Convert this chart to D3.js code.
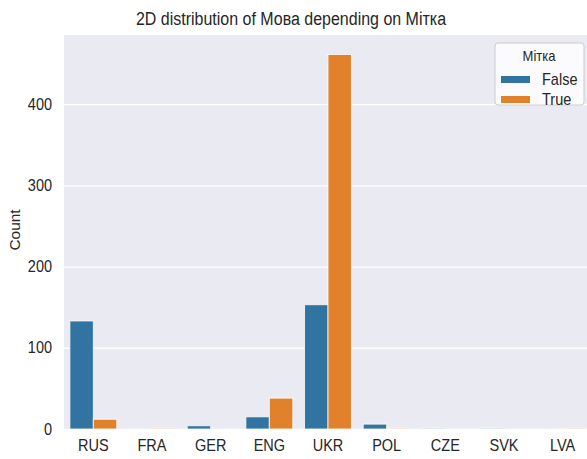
<!DOCTYPE html>
<html><head><meta charset="utf-8">
<script src="https://cdn.jsdelivr.net/npm/d3@7"></script>
<style>
body{margin:0;background:#fff;}
text{font-family:"Liberation Sans",Arial,sans-serif;fill:#262626;}
</style></head>
<body><svg id="c" width="587" height="459"></svg>
<script>
const categories = ["RUS","FRA","GER","ENG","UKR","POL","CZE","SVK","LVA"];
const series = ["False","True"];
const valuesFalse = [133, 0, 4, 15, 153, 6, 1, 1, 0];
const valuesTrue  = [12, 1, 0, 38, 461, 1, 0, 0, 1];
const yTicks = [0,100,200,300,400];
const colors = ["#3274a1","#e1812c"];
const title = "2D distribution of Мова depending on Мітка";
const yLabel = "Count";
const legendTitle = "Мітка";

const svg = d3.select("#c");
const L = 64, R = 592, T = 35, B = 429;
const x0 = d3.scaleBand().domain(categories).range([L,R]);
const xs = d3.scaleBand().domain(series).range([0, x0.bandwidth()*0.8]);
const y = d3.scaleLinear().domain([0,485]).range([B,T]);

svg.append("rect").attr("x",L).attr("y",T).attr("width",R-L).attr("height",B-T).attr("fill","#eaeaf2");

const yAxis = d3.axisLeft(y).tickValues(yTicks).tickSize(-(R-L)).tickPadding(12);
const gy = svg.append("g").attr("transform",`translate(${L},0)`).call(yAxis);
gy.select(".domain").remove();
gy.selectAll(".tick line").attr("stroke","#fff").attr("stroke-width",1.3);
gy.selectAll(".tick text").attr("font-size",14.5).attr("transform","scale(1,1.1)").style("fill","#262626");

const data = [valuesFalse, valuesTrue];
series.forEach((s,i)=>{
  svg.append("g").selectAll("rect").data(categories).join("rect")
    .attr("x",c=>x0(c)+x0.bandwidth()*0.1+xs(s))
    .attr("width",xs.bandwidth())
    .attr("y",(c,j)=>y(data[i][j]))
    .attr("height",(c,j)=>B-y(data[i][j]))
    .attr("fill",colors[i])
    .attr("stroke","#fff").attr("stroke-width",(c,j)=>data[i][j]>0?1:0).attr("stroke-opacity",0.8);
});

const xAxis = d3.axisBottom(x0).tickSize(0).tickPadding(10);
const gx = svg.append("g").attr("transform",`translate(0,${B})`).call(xAxis);
gx.select(".domain").remove();
gx.selectAll(".tick text").attr("font-size",14.5).attr("transform","scale(1,1.1)").style("fill","#262626");

svg.append("text").attr("transform","translate(291,25) scale(1,1.1)").attr("text-anchor","middle").attr("font-size",16).text(title);
svg.append("text").attr("transform","translate(20,230) rotate(-90) scale(1.1,1)").attr("text-anchor","middle").attr("font-size",14).text(yLabel);

// legend
const lg = svg.append("g");
lg.append("rect").attr("x",495).attr("y",43).attr("width",89).attr("height",62).attr("rx",3)
  .attr("fill","#fff").attr("fill-opacity",0.8).attr("stroke","#cccccc");
lg.append("text").attr("transform","translate(539,61) scale(1,1.1)").attr("text-anchor","middle").attr("font-size",13).text(legendTitle);
series.forEach((s,i)=>{
  lg.append("rect").attr("x",501).attr("y",76+i*20).attr("width",29).attr("height",7).attr("fill",colors[i]);
  lg.append("text").attr("transform",`translate(542,${85+i*20}) scale(1,1.1)`).attr("font-size",14.5).text(s);
});
</script></body></html>
